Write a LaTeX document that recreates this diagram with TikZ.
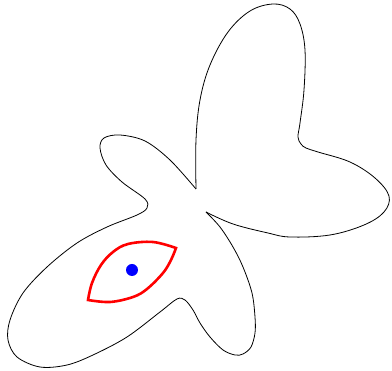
\documentclass[tikz,border=0pt]{standalone}
\begin{document}
\begin{tikzpicture}[x=1pt,y=-1pt,
  outline/.style={black,line width=0.8pt,line join=round},
  redloop/.style={red,line width=2.6pt,line join=miter},
  dot/.style={circle,fill=blue,inner sep=0pt,minimum size=12pt}]
\useasboundingbox (0,0) rectangle (392,371);
\coordinate (c1) at (196,189);
\coordinate (c2) at (206,212);
% upper and right lobes
\draw[outline] plot[smooth,tension=0.6] coordinates {(196,189) (196,140) (200,100) (210,65) (228,32) (250,11) (273,4) (290,9) (300,24) (305,50) (304,90) (300,123) (298,137) (301,144) (306,148) (318,152) (350,162) (375,178) (389,196) (384,212) (364,225) (330,235) (290,237) (268,233) (233,224) (206,212)};
% lower, left and upper-left lobes
\draw[outline] plot[smooth,tension=0.55] coordinates {(206,212) (220,227) (233,247) (243,267) (252,293) (255,317) (255,333) (251,347) (243,354) (235,355) (223,350) (210,337) (200,323) (193,310) (185,300) (177,299) (160,312) (127,337) (93,355) (67,365) (40,367) (17,357) (8,340) (10,320) (23,293) (47,267) (77,243) (107,227) (137,215) (147,208) (145,199) (122,182) (106,165) (100,148) (104,138) (120,135) (145,141) (170,160) (196,189)};
% red loop
\draw[redloop] plot[smooth,tension=0.6] coordinates {(88,300) (92,283) (101,265) (113,252) (128,244) (153,242) (176,248)}
  -- plot[smooth,tension=0.6] coordinates {(176,248) (171,260) (163,273) (147,289) (133,297) (110,302) (88,300)} -- cycle;
\node[dot] (p) at (132,270) {};
\end{tikzpicture}
\end{document}
